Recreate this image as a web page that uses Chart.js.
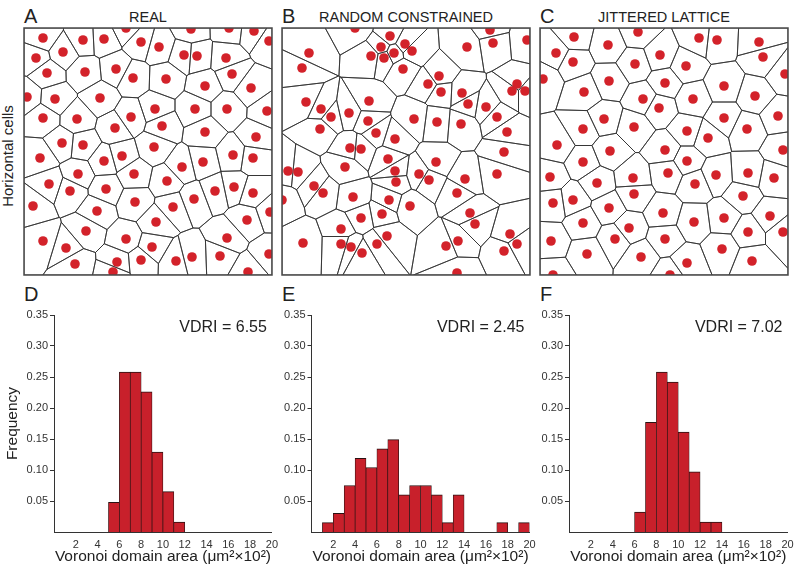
<!DOCTYPE html>
<html>
<head>
<meta charset="utf-8">
<script src="https://cdn.jsdelivr.net/npm/chart.js@4.4.1/dist/chart.umd.min.js"></script>
<style>
  body { margin: 0; background: #fff; }
  #figure { position: relative; width: 800px; height: 579px; overflow: hidden;
            font-family: "Liberation Sans", Arial, sans-serif; color: #222; }
  #figure canvas { position: absolute; }
  .letter { position: absolute; font-size: 20px; line-height: 20px; }
  .panel_title { position: absolute; width: 248px; font-size: 14.5px; line-height: 14.5px; text-align: center; }
  .side_label { position: absolute; font-size: 15px; line-height: 15px; white-space: nowrap;
                transform: translate(-50%, -50%) rotate(-90deg); }
</style>
</head>
<body>
<div id="figure">
  <div class="letter" style="left:24px; top:5.7px;">A</div>
  <div class="letter" style="left:282px; top:5.7px;">B</div>
  <div class="letter" style="left:540px; top:5.7px;">C</div>
  <div class="panel_title" style="left:24px; top:10.4px;">REAL</div>
  <div class="panel_title" style="left:282px; top:10.4px;">RANDOM CONSTRAINED</div>
  <div class="panel_title" style="left:540px; top:10.4px;">JITTERED LATTICE</div>
  <div class="side_label" style="left:6.5px; top:156px;">Horizontal cells</div>
  <div class="letter" style="left:24px; top:284.4px;">D</div>
  <div class="letter" style="left:282px; top:284.4px;">E</div>
  <div class="letter" style="left:540px; top:284.4px;">F</div>

  <canvas id="real_map" width="252" height="251" style="left:22px; top:26px;"></canvas>
  <canvas id="random_map" width="252" height="251" style="left:280px; top:26px;"></canvas>
  <canvas id="lattice_map" width="252" height="251" style="left:538px; top:26px;"></canvas>

  <canvas id="real_hist" width="284" height="266" style="left:0px; top:305px;"></canvas>
  <canvas id="random_hist" width="276" height="266" style="left:266px; top:305px;"></canvas>
  <canvas id="lattice_hist" width="276" height="266" style="left:524px; top:305px;"></canvas>
</div>

<script>
// Cell positions (field units, 0-248 across, 0-247 down)
const real_dots = [
  [19,10],[59,12],[80,11],[102,0],[117,14],[135,19],[167,1],[205,0],[230,3],[245,13],
  [12,30],[39,24],[160,27],[173,28],[202,30],
  [23,45],[61,44],[92,41],[109,50],[142,51],[208,46],[181,58],[227,60],
  [3,69],[31,71],[76,70],[131,81],[171,81],[203,81],[243,83],
  [19,90],[53,91],[107,89],[91,100],[138,98],[181,104],[232,109],
  [38,115],[59,117],[130,119],
  [16,130],[80,133],[98,128],[209,127],[229,130],[158,139],[179,134],
  [54,146],[110,146],[143,153],
  [25,156],[46,163],[82,161],[191,163],[210,159],[229,165],
  [9,178],[111,174],[149,179],[170,171],[73,183],[246,184],
  [132,194],[223,192],[62,203],[203,210],
  [19,213],[102,211],[42,220],[128,219],[245,226],
  [51,236],[93,234],[117,232],[152,233],[168,229],[196,228],
  [89,244],[224,244]
];

const random_dots = [
  [73,0],[108,8],[99,19],[123,16],[89,28],[102,30],[112,25],[130,23],
  [208,2],[211,15],[185,19],[245,12],
  [27,25],[20,40],[121,41],[157,48],[146,56],[159,64],
  [235,56],[230,63],[243,63],[180,65],[186,76],[204,79],
  [24,74],[39,81],[87,73],[49,89],[67,85],[86,93],
  [132,91],[155,94],[179,96],[215,89],
  [38,101],[94,105],[113,111],[225,104],
  [68,120],[79,121],[222,124],[106,131],[154,134],
  [6,143],[16,144],[63,139],[113,143],[137,146],[147,152],[114,154],[183,151],[215,146],
  [32,158],[41,165],[71,169],[107,172],[128,178],[175,165],[0,172],
  [188,185],[193,196],[79,190],[100,186],[59,201],
  [21,215],[59,216],[69,219],[95,216],[105,208],[164,218],[176,213],
  [228,206],[235,216],[222,223],[80,225],[175,245]
];

const lattice_dots = [
  [34,9],[68,17],[98,4],[159,10],[177,12],[219,14],[223,29],
  [16,25],[33,34],[95,36],[120,27],[146,38],[245,46],
  [3,51],[69,53],[125,55],[184,58],
  [44,64],[103,71],[153,71],[215,68],[119,80],
  [64,91],[184,90],[238,88],
  [43,101],[94,99],[147,103],[207,101],
  [168,110],[17,117],[70,123],[125,122],[243,122],
  [43,134],[147,133],
  [10,149],[57,155],[93,150],[128,145],[155,156],[176,147],[208,145],[234,150],
  [33,172],[13,175],[69,180],[94,166],[203,168],
  [123,185],[184,190],[230,188],
  [43,195],[89,200],[154,194],[208,204],[243,204],
  [11,213],[75,211],[125,211],[182,221],
  [47,226],[101,229],[147,235],[212,233],
  [13,247],[130,247]
];

// Histograms: bin start (x10^2 um^2) and frequency
const real_bins = [5, 6, 7, 8, 9, 10, 11];
const real_freq = [0.048, 0.258, 0.258, 0.226, 0.129, 0.065, 0.016];

const random_bins = [1, 2, 3, 4, 5, 6, 7, 8, 9, 10, 11, 12, 13, 17, 19];
const random_freq = [0.015, 0.03, 0.075, 0.119, 0.104, 0.134, 0.149, 0.06, 0.075, 0.075, 0.06, 0.015, 0.06, 0.015, 0.015];

const lattice_bins = [6, 7, 8, 9, 10, 11, 12, 13];
const lattice_freq = [0.032, 0.177, 0.258, 0.242, 0.161, 0.097, 0.016, 0.016];

const vdri_values = ["6.55", "2.45", "7.02"];

Chart.defaults.font.family = "'Liberation Sans', Arial, sans-serif";
Chart.defaults.color = "#333";

// Keeps the part of a polygon closer to p than to q
function clipCell(polygon, p, q) {
  const nx = q[0] - p[0], ny = q[1] - p[1];
  const mx = (p[0] + q[0]) / 2, my = (p[1] + q[1]) / 2;
  const side = (v) => (v[0] - mx) * nx + (v[1] - my) * ny;
  let result = [];
  for (let i = 0; i < polygon.length; i++) {
    const a = polygon[i];
    const b = polygon[(i + 1) % polygon.length];
    const sa = side(a), sb = side(b);
    if (sa <= 0) result.push(a);
    if ((sa < 0 && sb > 0) || (sa > 0 && sb < 0)) {
      const t = sa / (sa - sb);
      result.push([a[0] + t * (b[0] - a[0]), a[1] + t * (b[1] - a[1])]);
    }
  }
  return result;
}

// Draws the voronoi domains of the dataset points, plus the frame
const voronoi_plugin = {
  id: "voronoi",
  beforeDatasetsDraw(chart) {
    const ctx = chart.ctx;
    const x_scale = chart.scales.x, y_scale = chart.scales.y;
    const dots = chart.data.datasets[0].data.map((d) => [d.x, d.y]);
    const box = [[x_scale.min, y_scale.min], [x_scale.max, y_scale.min],
                 [x_scale.max, y_scale.max], [x_scale.min, y_scale.max]];
    const area = chart.chartArea;
    ctx.save();
    ctx.beginPath();
    ctx.rect(area.left, area.top, area.right - area.left, area.bottom - area.top);
    ctx.clip();
    ctx.strokeStyle = "#2e2e2e";
    ctx.lineWidth = 0.8;
    dots.forEach((p, i) => {
      let cell = box;
      dots.forEach((q, j) => {
        if (i !== j && cell.length) cell = clipCell(cell, p, q);
      });
      if (cell.length < 3) return;
      ctx.beginPath();
      cell.forEach((v, k) => {
        const px = x_scale.getPixelForValue(v[0]);
        const py = y_scale.getPixelForValue(v[1]);
        if (k == 0) ctx.moveTo(px, py);
        else ctx.lineTo(px, py);
      });
      ctx.closePath();
      ctx.stroke();
    });
    ctx.restore();
  },
  afterDraw(chart) {
    const ctx = chart.ctx;
    const area = chart.chartArea;
    ctx.save();
    ctx.strokeStyle = "#4a4a4a";
    ctx.lineWidth = 1.5;
    ctx.strokeRect(area.left, area.top, area.right - area.left, area.bottom - area.top);
    ctx.restore();
  },
};

function renderMap(element_id, dots) {
  const ctx = document.getElementById(element_id).getContext("2d");
  new Chart(ctx, {
    type: "scatter",
    data: {
      datasets: [{
        data: dots.map((d) => ({ x: d[0], y: d[1] })),
        pointRadius: 4.8,
        pointHoverRadius: 4.8,
        backgroundColor: "#d3222a",
        borderWidth: 0,
        clip: 0,
      }],
    },
    options: {
      responsive: false,
      animation: false,
      devicePixelRatio: 1,
      layout: { autoPadding: false, padding: 2 },
      plugins: { legend: { display: false }, tooltip: { enabled: false } },
      scales: {
        x: { type: "linear", min: 0, max: 248, display: false },
        y: { type: "linear", min: 0, max: 247, reverse: true, display: false },
      },
    },
    plugins: [voronoi_plugin],
  });
}

// VDRI label in the top right corner of the plot
const vdri_plugin = {
  id: "vdri",
  afterDraw(chart, args, opts) {
    const ctx = chart.ctx;
    const area = chart.chartArea;
    ctx.save();
    ctx.font = "16px 'Liberation Sans', Arial, sans-serif";
    ctx.fillStyle = "#222";
    ctx.textAlign = "right";
    ctx.textBaseline = "middle";
    ctx.fillText("VDRI = " + opts.text, area.right - 5, area.top + 12.5);
    ctx.restore();
  },
};

function renderHistogram(element_id, bins, freqs, vdri, axis_width, right_pad, show_y_title) {
  const ctx = document.getElementById(element_id).getContext("2d");
  const bars = bins.map((b, i) => ({ x: b + 0.5, y: freqs[i] }));
  new Chart(ctx, {
    type: "bar",
    data: {
      datasets: [{
        data: bars,
        backgroundColor: "#c8202b",
        borderColor: "#2a1212",
        borderWidth: { top: 1, left: 0.7, right: 0.7, bottom: 0 },
        barPercentage: 1,
        categoryPercentage: 1,
      }],
    },
    options: {
      responsive: false,
      animation: false,
      devicePixelRatio: 1,
      layout: { autoPadding: false, padding: { left: 0, top: 10, right: right_pad, bottom: 5 } },
      plugins: { legend: { display: false }, tooltip: { enabled: false }, vdri: { text: vdri } },
      scales: {
        x: {
          type: "linear", min: 0, max: 20, offset: false,
          afterBuildTicks: (scale) => { scale.ticks = scale.ticks.filter((t) => t.value > 0); },
          afterFit: (scale) => { scale.height = 34; },
          ticks: { stepSize: 2, autoSkip: false, maxRotation: 0, padding: 6, color: "#333", font: { size: 11 } },
          grid: { drawOnChartArea: false, drawTicks: false, offset: false },
          border: { color: "#333", width: 1 },
          title: { display: true, text: "Voronoi domain area (μm²×10²)", color: "#222",
                   font: { size: 15.5 }, padding: { top: 0, bottom: 0 } },
        },
        y: {
          min: 0, max: 0.35,
          afterBuildTicks: (scale) => { scale.ticks = scale.ticks.filter((t) => t.value > 0.001); },
          afterFit: (scale) => { scale.width = axis_width; },
          ticks: { stepSize: 0.05, padding: 2, color: "#333", font: { size: 11 },
                   callback: (value) => Number(value).toFixed(2) },
          grid: { drawOnChartArea: false, tickLength: 4, color: "#333" },
          border: { color: "#333", width: 1 },
          title: { display: show_y_title, text: "Frequency", color: "#222",
                   font: { size: 15.5 }, padding: { top: 3.7, bottom: 0 } },
        },
      },
    },
    plugins: [vdri_plugin],
  });
}

renderMap("real_map", real_dots);
renderMap("random_map", random_dots);
renderMap("lattice_map", lattice_dots);

renderHistogram("real_hist", real_bins, real_freq, vdri_values[0], 54, 12, true);
renderHistogram("random_hist", random_bins, random_freq, vdri_values[1], 45.5, 12.5, false);
renderHistogram("lattice_hist", lattice_bins, lattice_freq, vdri_values[2], 45, 12.5, false);
</script>
</body>
</html>
